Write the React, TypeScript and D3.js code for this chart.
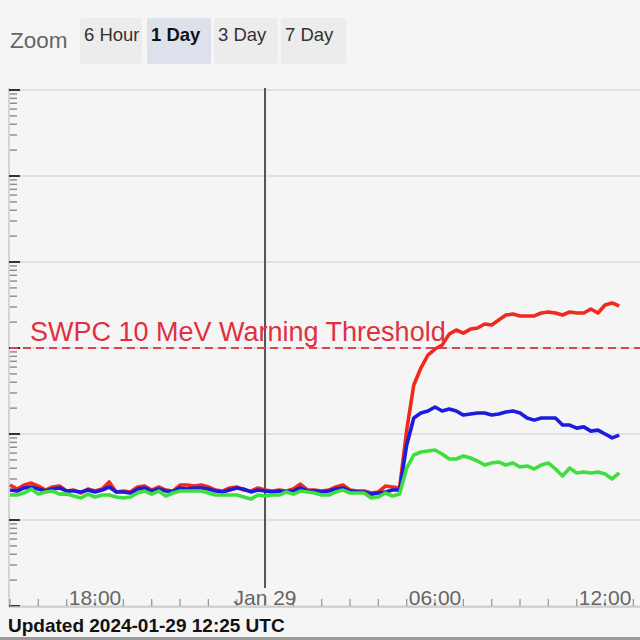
import React from "react";
import * as d3 from "d3";

// ---- data (proton flux, pfu), 15-minute samples starting 2024-01-28 15:00 UTC ----
const START_UTC = Date.UTC(2024, 0, 28, 15, 0);
const STEP_MIN = 15;

const flux10MeV = [
  0.255, 0.229, 0.255, 0.269, 0.248, 0.223, 0.242, 0.248, 0.217, 0.223,
  0.206, 0.229, 0.217, 0.229, 0.277, 0.212, 0.217, 0.212, 0.242, 0.248,
  0.223, 0.242, 0.223, 0.217, 0.255, 0.255, 0.248, 0.255, 0.242, 0.223,
  0.217, 0.236, 0.242, 0.223, 0.217, 0.236, 0.223, 0.217, 0.223, 0.217,
  0.229, 0.262, 0.223, 0.223, 0.217, 0.223, 0.242, 0.255, 0.223, 0.217,
  0.217, 0.206, 0.212, 0.248, 0.242,
  0.236, 1.11, 3.71, 5.85, 8.29, 9.73, 10.8, 14.5, 16.2, 14.9,
  16.6, 17.1, 19.0, 18.5, 21.2, 24.2, 24.8, 23.6, 23.6, 23.6,
  25.5, 26.2, 25.5, 24.2, 26.2, 25.5, 25.5, 28.4, 25.5, 31.6,
  33.4, 30.8,
];

const flux50MeV = [
  0.223, 0.217, 0.236, 0.242, 0.229, 0.217, 0.229, 0.236, 0.217, 0.217,
  0.212, 0.223, 0.212, 0.223, 0.242, 0.212, 0.212, 0.206, 0.229, 0.236,
  0.217, 0.229, 0.217, 0.212, 0.236, 0.229, 0.236, 0.236, 0.229, 0.217,
  0.212, 0.223, 0.236, 0.229, 0.212, 0.223, 0.217, 0.212, 0.217, 0.212,
  0.217, 0.236, 0.217, 0.217, 0.212, 0.217, 0.229, 0.236, 0.217, 0.212,
  0.212, 0.200, 0.206, 0.212, 0.223,
  0.223, 0.745, 1.535, 1.754, 1.85, 2.06, 1.85, 1.95, 1.85, 1.66,
  1.71, 1.754, 1.754, 1.66, 1.71, 1.80, 1.85, 1.754, 1.535, 1.45,
  1.535, 1.535, 1.535, 1.27, 1.27, 1.17, 1.21, 1.08, 1.11, 1.0,
  0.90, 0.97,
];

const flux100MeV = [
  0.195, 0.195, 0.206, 0.229, 0.200, 0.212, 0.217, 0.200, 0.200, 0.190,
  0.180, 0.200, 0.185, 0.195, 0.195, 0.185, 0.180, 0.185, 0.206, 0.217,
  0.200, 0.217, 0.190, 0.206, 0.217, 0.217, 0.217, 0.217, 0.206, 0.195,
  0.195, 0.195, 0.195, 0.185, 0.175, 0.195, 0.190, 0.195, 0.195, 0.212,
  0.200, 0.217, 0.212, 0.206, 0.195, 0.195, 0.212, 0.223, 0.206, 0.206,
  0.206, 0.180, 0.185, 0.206, 0.190,
  0.201, 0.402, 0.570, 0.618, 0.634, 0.652, 0.585, 0.512, 0.512, 0.555,
  0.526, 0.485, 0.436, 0.460, 0.472, 0.436, 0.460, 0.413, 0.425, 0.392,
  0.436, 0.460, 0.392, 0.325, 0.402, 0.352, 0.361, 0.352, 0.361, 0.343,
  0.300, 0.352,
];

const seriesColors = ["#f02a1c", "#1c1cdc", "#3ddf3d"];
const thresholdValue = 10;
const thresholdLabel = "SWPC 10 MeV Warning Threshold";
const zoomButtons = ["6 Hour", "1 Day", "3 Day", "7 Day"];
const selectedZoom = "1 Day";
const xTickLabels = [
  { t: Date.UTC(2024, 0, 28, 18), label: "18:00" },
  { t: Date.UTC(2024, 0, 29, 0), label: "Jan 29" },
  { t: Date.UTC(2024, 0, 29, 6), label: "06:00" },
  { t: Date.UTC(2024, 0, 29, 12), label: "12:00" },
];
const dayLine = Date.UTC(2024, 0, 29, 0);
const updatedText = "Updated 2024-01-29 12:25 UTC";

const W = 640;
const H = 640;
const FONT = "'Liberation Sans', Arial, sans-serif";

export default function App() {
  const plotLeft = 10;
  const plotRight = 640;
  const plotTop = 90;
  const plotBottom = 606;

  const x = d3
    .scaleUtc()
    .domain([START_UTC, Date.UTC(2024, 0, 29, 13, 14)])
    .range([plotLeft, plotRight]);
  const y = d3.scaleLog().domain([0.01, 1e4]).range([plotBottom, plotTop]);

  const toPts = (arr: number[]) =>
    arr.map((v, i) => ({ t: START_UTC + i * STEP_MIN * 60000, v }));
  const line = d3
    .line<{ t: number; v: number }>()
    .x((d) => x(d.t))
    .y((d) => y(d.v));

  const decades = d3.range(-2, 5).map((e) => Math.pow(10, e));
  const minorTicks: number[] = [];
  decades.slice(0, -1).forEach((d) => {
    for (let k = 2; k <= 9; k++) minorTicks.push(d * k);
  });

  const hourTicks = d3.utcHour.range(
    new Date(START_UTC),
    new Date(Date.UTC(2024, 0, 29, 13, 10))
  );

  // zoom button layout
  const btnX = [80, 147, 214, 281];
  const btnW = [62, 64, 64, 65];

  return (
    <svg
      width={W}
      height={H}
      style={{ position: "absolute", left: 0, top: 0, fontFamily: FONT }}
    >
      <rect x={0} y={0} width={W} height={H} fill="#f5f5f5" />

      {/* Zoom buttons */}
      <text x={10} y={48} fontSize={22.5} fill="#666">
        Zoom
      </text>
      {zoomButtons.map((b, i) => (
        <g key={b}>
          <rect
            x={btnX[i]}
            y={18}
            width={btnW[i]}
            height={46}
            fill={b === selectedZoom ? "#dce1eb" : "#ececec"}
            rx={2}
          />
          <text
            x={btnX[i] + 4}
            y={41}
            fontSize={18.5}
            fill={b === selectedZoom ? "#111" : "#333"}
            fontWeight={b === selectedZoom ? "bold" : "normal"}
          >
            {b}
          </text>
        </g>
      ))}

      {/* gridlines */}
      {decades.map((d) => (
        <line
          key={"g" + d}
          x1={plotLeft}
          x2={plotRight}
          y1={y(d)}
          y2={y(d)}
          stroke="#dadada"
          strokeWidth={1.5}
        />
      ))}

      {/* y axis */}
      <line x1={9} x2={9} y1={plotTop - 2} y2={plotBottom} stroke="#c8c8c8" strokeWidth={1.5} />
      {minorTicks.map((d) => (
        <line
          key={"m" + d}
          x1={10}
          x2={17}
          y1={y(d)}
          y2={y(d)}
          stroke="#8a8a8a"
          strokeWidth={1.4}
        />
      ))}
      {decades.map((d) => (
        <line
          key={"M" + d}
          x1={9}
          x2={20}
          y1={y(d)}
          y2={y(d)}
          stroke="#333"
          strokeWidth={2}
        />
      ))}

      {/* x axis */}
      <line x1={plotLeft} x2={plotRight} y1={plotBottom + 1} y2={plotBottom + 1} stroke="#c8c8c8" strokeWidth={1.5} />
      {hourTicks.map((t) => (
        <line
          key={"h" + +t}
          x1={x(t)}
          x2={x(t)}
          y1={plotBottom - 7}
          y2={plotBottom}
          stroke="#999"
          strokeWidth={1.3}
        />
      ))}
      {xTickLabels.map((l) => (
        <text
          key={l.label}
          x={x(l.t)}
          y={plotBottom - 1}
          fontSize={21}
          fill="#666"
          textAnchor="middle"
        >
          {l.label}
        </text>
      ))}

      {/* day boundary line */}
      <line
        x1={x(dayLine)}
        x2={x(dayLine)}
        y1={plotTop - 2}
        y2={588}
        stroke="#555"
        strokeWidth={2}
      />

      {/* threshold */}
      <line
        x1={plotLeft}
        x2={plotRight}
        y1={y(thresholdValue)}
        y2={y(thresholdValue)}
        stroke="#e04452"
        strokeWidth={2}
        strokeDasharray="8,5"
      />
      <text x={30} y={y(thresholdValue) - 7} fontSize={27} fill="#e03040">
        {thresholdLabel}
      </text>

      {/* series */}
      {[flux10MeV, flux50MeV, flux100MeV].map((arr, i) => (
        <path
          key={"s" + i}
          d={line(toPts(arr)) || ""}
          fill="none"
          stroke={seriesColors[i]}
          strokeWidth={3.6}
          strokeLinejoin="round"
        />
      ))}

      {/* footer */}
      <text x={8} y={632} fontSize={19} fontWeight="bold" fill="#111">
        {updatedText}
      </text>
      <rect x={0} y={637} width={W} height={3} fill="#9a9a9a" />
    </svg>
  );
}
